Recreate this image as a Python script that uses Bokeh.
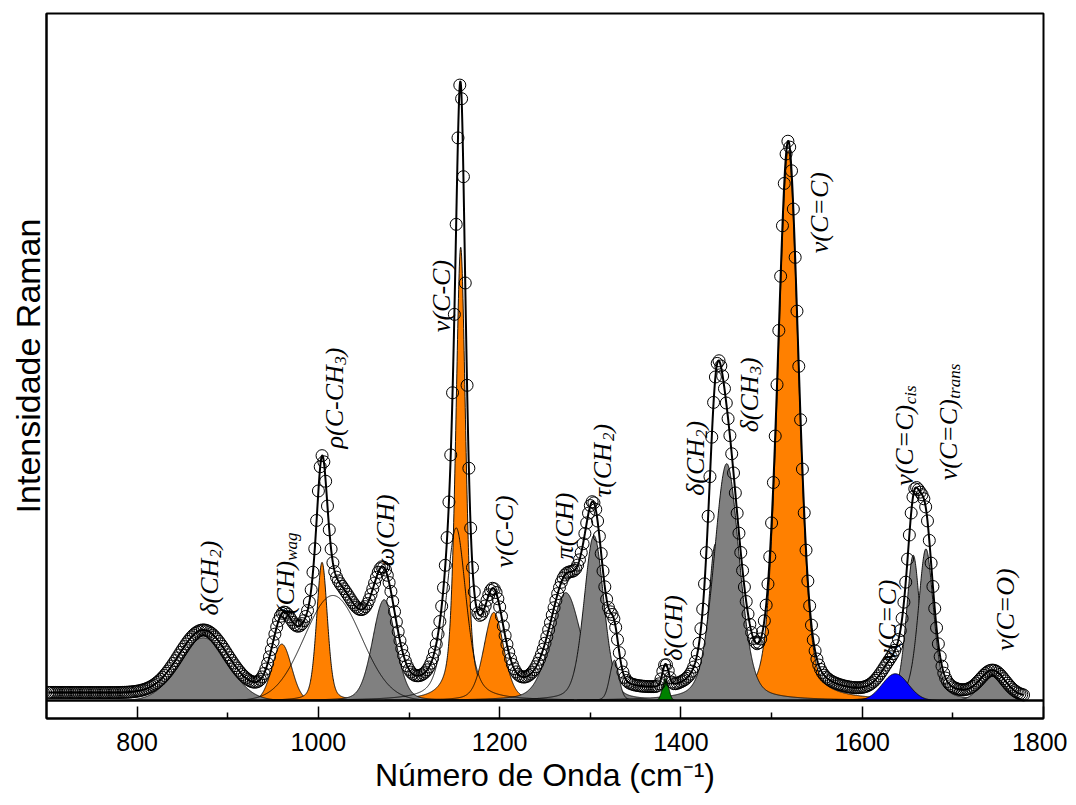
import numpy as np
from bokeh.plotting import figure
from bokeh.models import Range1d, FixedTicker, Span
from bokeh.core.properties import value
from bokeh.embed import file_html
from bokeh.resources import INLINE

# ---------------- data ----------------
# fitted band components: centre (cm-1), height (a.u.), FWHM (cm-1), Lorentz fraction, fill
peak_center = [873, 959.6, 1004, 1016, 1072.5, 1152, 1157, 1193.5, 1273, 1304,
               1326.5, 1383, 1438, 1450.5, 1518.4, 1636.5, 1656.3, 1670.3, 1744]
peak_height = [8.9, 8.0, 19.6, 14.9, 14.3, 24.5, 64.3, 12.5, 15.3, 23.4,
               5.7, 3.1, 22.2, 33.6, 78.0, 3.8, 20.6, 21.5, 3.5]
peak_fwhm = [63, 25, 14, 74, 30, 26, 13, 26, 40, 26,
             12, 8, 18, 33, 27, 34, 18, 20, 32]
peak_eta = [0.0, 0.0, 0.3, 0.0, 0.2, 0.5, 0.5, 0.3, 0.3, 0.3,
            0.2, 0.0, 0.3, 0.3, 0.3, 0.0, 0.4, 0.4, 0.0]
peak_fill = ["gray", "orange", "orange", "none", "gray", "none", "orange", "orange", "gray", "gray",
             "gray", "green", "gray", "gray", "orange", "blue", "gray", "gray", "gray"]

baseline_level = 2.55          # zero line of the components
background_start = 1.1         # extra background of the measured spectrum at 700 cm-1
background_end = 0.4           # ... and at 1780 cm-1
spectrum_start, spectrum_end, spectrum_step = 702, 1778, 2.0

tick_values = [800, 1000, 1200, 1400, 1600, 1800]
tick_labels = ["800", "1000", "1200", "1400", "1600", "1800"]
minor_tick_values = [900, 1100, 1300, 1500, 1700]

# band assignments: list of (text, is_subscript) parts
label_parts = [
    [("δ(CH", 0), ("2", 1), (")", 0)],
    [("(CH)", 0), ("wag", 1)],
    [("ρ(C-CH", 0), ("3", 1), (")", 0)],
    [("ω(CH)", 0)],
    [("ν(C-C)", 0)],
    [("ν(C-C)", 0)],
    [("π(CH)", 0)],
    [("τ(CH", 0), ("2", 1), (")", 0)],
    [("δ(CH)", 0)],
    [("δ(CH", 0), ("2", 1), (")", 0)],
    [("δ(CH", 0), ("3", 1), (")", 0)],
    [("ν(C=C)", 0)],
    [("ν(C=C)", 0)],
    [("ν(C=C)", 0), ("cis", 1)],
    [("ν(C=C)", 0), ("trans", 1)],
    [("ν(C=O)", 0)],
]
label_x = [879.5, 963.3, 1017.3, 1073.5, 1135.5, 1204.9, 1272.0, 1313.0,
           1391.3, 1415.5, 1475.1, 1553.4, 1628.4, 1646.1, 1695.7, 1758.6]
label_y = [14.6, 14.8, 38.3, 21.6, 54.8, 21.4, 22.6, 31.4,
           8.2, 31.6, 40.6, 66.0, 8.2, 33.0, 33.8, 9.6]

# ---------------- figure ----------------
FW, FH = 997, 705
X0, X1, Y0, Y1 = 700, 1800, 0, 100
px_x = FW / (X1 - X0)
px_y = FH / (Y1 - Y0)

p = figure(frame_width=FW, frame_height=FH, x_range=Range1d(X0, X1), y_range=Range1d(Y0, Y1),
           output_backend="svg", toolbar_location=None,
           min_border_left=46, min_border_right=24, min_border_top=13, min_border_bottom=84)
p.grid.visible = False
p.outline_line_color = "black"
p.outline_line_width = 2
p.background_fill_color = "white"
p.border_fill_color = "white"

xa = p.xaxis[0]
xa.ticker = FixedTicker(ticks=tick_values, minor_ticks=minor_tick_values)
xa.major_label_overrides = {t: l for t, l in zip(tick_values, tick_labels)}
xa.axis_line_width = 2
xa.major_tick_in = 12
xa.major_tick_out = 0
xa.minor_tick_in = 6
xa.minor_tick_out = 0
xa.major_tick_line_width = 1.5
xa.minor_tick_line_width = 1.5
xa.major_label_text_font = "Liberation Sans"
xa.major_label_text_font_size = "25px"
xa.major_label_text_color = "black"
xa.major_label_standoff = 14
xa.axis_label = "Número de Onda (cm⁻¹)"
xa.axis_label_text_font = "Liberation Sans"
xa.axis_label_text_font_size = "32px"
xa.axis_label_text_font_style = "normal"
xa.axis_label_text_color = "black"
xa.axis_label_standoff = 3

ya = p.yaxis[0]
ya.ticker = FixedTicker(ticks=[])
ya.axis_line_width = 2
ya.major_tick_line_color = None
ya.minor_tick_line_color = None
ya.axis_label = "Intensidade Raman"
ya.axis_label_text_font = "Liberation Sans"
ya.axis_label_text_font_size = "34px"
ya.axis_label_text_font_style = "normal"
ya.axis_label_text_color = "black"
ya.axis_label_standoff = 0


def pseudo_voigt(x, c, h, w, eta):
    u = (x - c) / w
    g = np.exp(-4 * np.log(2) * u ** 2)
    lo = 1.0 / (1.0 + 4 * u ** 2)
    return h * ((1 - eta) * g + eta * lo)


def envelope(x):
    x = np.asarray(x, dtype=float)
    bg = background_start + (background_end - background_start) * (x - 700) / (1780 - 700)
    tot = baseline_level + bg
    for c, h, w, e in zip(peak_center, peak_height, peak_fwhm, peak_eta):
        tot = tot + pseudo_voigt(x, c, h, w, e)
    return tot


fill_colors = {"gray": "#808080", "orange": "#FF8000", "green": "#008000", "blue": "#0000FF"}
draw_order = ["orange", "gray", "green", "blue", "none"]

x_fine = np.arange(X0, spectrum_end + 0.25, 0.25)
for cat in draw_order:
    for c, h, w, e, f in zip(peak_center, peak_height, peak_fwhm, peak_eta, peak_fill):
        if f != cat:
            continue
        half = max(5 * w, 70)
        xs = x_fine[(x_fine >= c - half) & (x_fine <= c + half)]
        ys = baseline_level + pseudo_voigt(xs, c, h, w, e)
        if f != "none":
            p.varea(x=xs, y1=np.full_like(xs, baseline_level), y2=ys,
                    fill_color=fill_colors[f], fill_alpha=1.0)
        p.line(xs, ys, line_color="black", line_width=0.9)

# fitted envelope
x_env = np.arange(spectrum_start, spectrum_end + 0.25, 0.25)
p.line(x_env, envelope(x_env), line_color="black", line_width=2)

# measured spectrum (open circles)
spec_x = np.arange(spectrum_start, spectrum_end + 0.01, spectrum_step)
spec_y = envelope(spec_x)
p.scatter(spec_x, spec_y, marker="circle", size=12, line_color="black",
          line_width=1, fill_color=None)

# component zero line
p.add_layout(Span(location=baseline_level, dimension="width", line_color="black", line_width=2.5))

# ---------------- labels ----------------
widths = {"(": .333, ")": .333, "C": .667, "H": .722, "-": .333, "=": .675, "O": .722,
          "ν": .46, "δ": .5, "ρ": .5, "ω": .67, "τ": .44, "π": .5, "w": .667, "a": .5,
          "g": .5, "c": .444, "i": .278, "s": .389, "t": .278, "r": .389, "n": .5,
          "2": .5, "3": .5}
F_MAIN, F_SUB = 26, 17
main_x, main_y, main_t = [], [], []
sub_x, sub_y, sub_t = [], [], []
for parts, lx, ly in zip(label_parts, label_x, label_y):
    y_cur = ly
    for txt, is_sub in parts:
        size = F_SUB if is_sub else F_MAIN
        length_px = sum(widths.get(ch, 0.5) for ch in txt) * size
        if is_sub:
            sub_x.append(lx + 6 / px_x)
            sub_y.append(y_cur)
            sub_t.append(txt)
        else:
            main_x.append(lx)
            main_y.append(y_cur)
            main_t.append(txt)
        y_cur += length_px / px_y

p.text(x=main_x, y=main_y, text=main_t, angle=np.pi / 2, text_align="left",
       text_baseline="alphabetic", text_font=value("Liberation Serif"),
       text_font_style="italic", text_font_size=f"{F_MAIN}px", text_color="black")
p.text(x=sub_x, y=sub_y, text=sub_t, angle=np.pi / 2, text_align="left",
       text_baseline="alphabetic", text_font=value("Liberation Serif"),
       text_font_style="italic", text_font_size=f"{F_SUB}px", text_color="black")

open("out.html", "w").write(file_html(p, INLINE))
